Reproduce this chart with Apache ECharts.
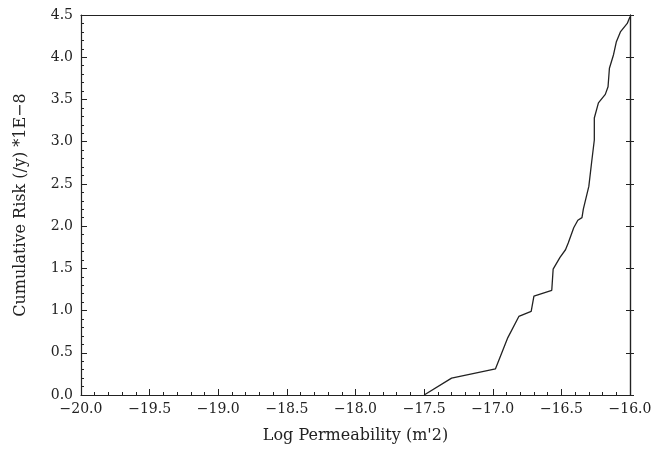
<!DOCTYPE html>
<html>
<head>
<meta charset="utf-8">
<script src="https://cdn.jsdelivr.net/npm/echarts@6/dist/echarts.min.js"></script>
<style>
  html, body { margin: 0; padding: 0; background: #fff; }
  #main { width: 669px; height: 449px; }
</style>
</head>
<body>
<div id="main"></div>
<script>
// cumulative risk curve
const logPerm = [-17.50, -17.30, -16.98, -16.89, -16.81, -16.72, -16.70, -16.57, -16.56, -16.51,
  -16.47, -16.45, -16.41, -16.38, -16.35, -16.34, -16.30, -16.28, -16.26, -16.26,
  -16.23, -16.18, -16.16, -16.15, -16.12, -16.10, -16.07, -16.02, -16.00]
const cumRisk = [0.00, 0.20, 0.31, 0.68, 0.93, 0.99, 1.17, 1.24, 1.49, 1.63,
  1.72, 1.80, 1.98, 2.07, 2.10, 2.20, 2.47, 2.75, 3.02, 3.28,
  3.46, 3.56, 3.65, 3.87, 4.03, 4.18, 4.30, 4.40, 4.48]

const font = 'DejaVu Serif'
const ink = '#222'

let chart = echarts.init(document.getElementById('main'))

/** 坐标轴公共样式 */
function baseAxis(extra) {
  return Object.assign({
    type: 'value',
    axisLine: { show: true, onZero: false, lineStyle: { color: ink, width: 1.2 } },
    splitLine: { show: false },
    minorSplitLine: { show: false }
  }, extra)
}

let option = {
  animation: false,
  backgroundColor: '#fff',
  grid: { left: 81, right: 39, top: 15, bottom: 53 },
  xAxis: [
    baseAxis({
      min: -20, max: -16, interval: 0.5,
      name: "Log Permeability (m'2)",
      nameLocation: 'middle', nameGap: 33,
      nameTextStyle: { fontFamily: font, fontSize: 16, color: ink },
      axisTick: { inside: true, length: 6, lineStyle: { color: ink } },
      minorTick: { show: true, splitNumber: 5, length: 3, lineStyle: { color: ink } },
      axisLabel: {
        fontFamily: font, fontSize: 14, color: ink, margin: 7,
        formatter: v => v.toFixed(1).replace('-', '\u2212')
      }
    }),
    baseAxis({
      min: -20, max: -16, position: 'top',
      axisTick: { show: false }, axisLabel: { show: false }
    })
  ],
  yAxis: [
    baseAxis({
      min: 0, max: 4.5, interval: 0.5,
      name: 'Cumulative Risk (/y) *1E\u22128',
      nameLocation: 'middle', nameGap: 52, nameRotate: 90,
      nameTextStyle: { fontFamily: font, fontSize: 16, color: ink },
      axisTick: { inside: true, length: 6, lineStyle: { color: ink } },
      minorTick: { show: true, splitNumber: 5, length: 3, lineStyle: { color: ink } },
      axisLabel: {
        fontFamily: font, fontSize: 14, color: ink, margin: 8,
        formatter: v => v.toFixed(1)
      }
    }),
    baseAxis({
      min: 0, max: 4.5, interval: 0.5, position: 'right',
      axisTick: { inside: true, length: 4, lineStyle: { color: ink } },
      axisLabel: { show: false }
    }),
    baseAxis({
      min: 0, max: 4.5, interval: 0.5, position: 'right',
      axisTick: { inside: false, length: 4, lineStyle: { color: ink } },
      axisLabel: { show: false }
    })
  ],
  series: [
    {
      type: 'line',
      data: logPerm.map((x, i) => [x, cumRisk[i]]),
      showSymbol: false,
      lineStyle: { color: ink, width: 1.3 }
    }
  ]
}

chart.setOption(option)
</script>
</body>
</html>
